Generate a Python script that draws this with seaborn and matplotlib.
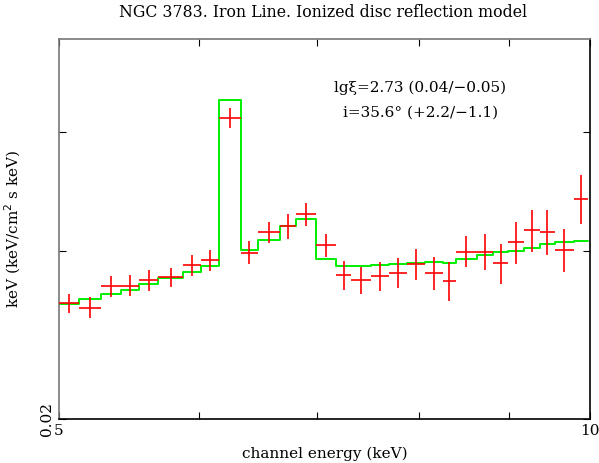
import numpy as np
import pandas as pd
import matplotlib
matplotlib.use("Agg")
import matplotlib.pyplot as plt
import matplotlib.ticker as mticker
import seaborn as sns

sns.set_style("ticks")
plt.rcParams["font.family"] = ["DejaVu Serif", "DejaVu Sans"]
plt.rcParams["text.color"] = "black"
plt.rcParams["axes.labelcolor"] = "black"

# === Data ===
# channel bin edges, keV
bin_edges = [5.00, 5.13, 5.28, 5.42, 5.55, 5.69, 5.88, 6.02, 6.16, 6.34,
             6.48, 6.67, 6.81, 6.99, 7.18, 7.32, 7.51, 7.69, 7.88, 8.06,
             8.25, 8.39, 8.63, 8.81, 8.99, 9.18, 9.37, 9.55, 9.79, 9.97]
# observed spectrum, keV (keV/cm2 s keV)
flux = [0.02643, 0.02615, 0.02755, 0.02759, 0.02793, 0.02814, 0.02897, 0.02932,
        0.04133, 0.02988, 0.03136, 0.03184, 0.03275, 0.03039, 0.02829, 0.02795,
        0.02822, 0.02845, 0.02905, 0.02843, 0.02791, 0.02995, 0.02995, 0.02912,
        0.03061, 0.03151, 0.03138, 0.03007, 0.03400]
flux_err = [0.00062, 0.00066, 0.00068, 0.00070, 0.00073, 0.00066, 0.00075, 0.00076,
            0.00097, 0.00083, 0.00079, 0.00096, 0.00091, 0.00086, 0.00101, 0.00090,
            0.00097, 0.00101, 0.00107, 0.00112, 0.00132, 0.00113, 0.00133, 0.00140,
            0.00153, 0.00161, 0.00170, 0.00159, 0.00200]
# ionized disc reflection model, per bin
model = [0.02638, 0.02668, 0.02703, 0.02733, 0.02769, 0.02811, 0.02850, 0.02891,
         0.04320, 0.03003, 0.03076, 0.03184, 0.03240, 0.02944, 0.02893, 0.02889,
         0.02896, 0.02903, 0.02912, 0.02919, 0.02912, 0.02942, 0.02969, 0.02990,
         0.03000, 0.03019, 0.03049, 0.03063, 0.03073]

edges = np.array(bin_edges)
centers = 0.5 * (edges[:-1] + edges[1:])
half_w = 0.5 * (edges[1:] - edges[:-1])

model_df = pd.DataFrame({"energy": edges, "model": model + [model[-1]]})

# === Plot ===
fig = plt.figure(figsize=(5.99, 4.63), dpi=100)
ax = fig.add_axes([59 / 599, 44 / 463, 531 / 599, 380 / 463])

ax.errorbar(centers, flux, xerr=half_w, yerr=flux_err, fmt="none",
            ecolor="#ff0000", elinewidth=1.2, capsize=0, zorder=3)
sns.lineplot(data=model_df, x="energy", y="model", ax=ax, color="#00ee00",
             drawstyle="steps-post", linewidth=1.4, estimator=None, zorder=2)

ax.set_xscale("log")
ax.set_yscale("log")
ax.set_xlim(5, 10)
ax.set_ylim(0.02, 0.05)

ax.xaxis.set_major_locator(mticker.FixedLocator([5, 10]))
ax.xaxis.set_major_formatter(mticker.FixedFormatter(["5", "10"]))
ax.xaxis.set_minor_locator(mticker.FixedLocator([6, 7, 8, 9]))
ax.xaxis.set_minor_formatter(mticker.NullFormatter())
ax.yaxis.set_major_locator(mticker.FixedLocator([0.02, 0.03, 0.04]))
ax.yaxis.set_major_formatter(mticker.FixedFormatter(["0.02", "", ""]))
ax.yaxis.set_minor_locator(mticker.NullLocator())

ax.tick_params(which="both", direction="in", top=True, right=True,
               length=5, width=0.8, colors="black", labelsize=11)
for lab in ax.get_yticklabels():
    lab.set_rotation(90)
    lab.set_va("center")

for side in ["left", "top"]:
    ax.spines[side].set_color("#777777")
for side in ["right", "bottom"]:
    ax.spines[side].set_color("black")
for sp in ax.spines.values():
    sp.set_linewidth(1.2)

ax.set_xlabel("channel energy (keV)", fontsize=11, labelpad=6)
ax.set_ylabel("keV (keV/cm$^2$ s keV)", fontsize=11, labelpad=12)
fig.text(0.54, 0.973, "NGC 3783. Iron Line. Ionized disc reflection model",
         ha="center", va="center", fontsize=11.3)

ax.text(0.68, 0.872, "lg\u03be=2.73 (0.04/\u22120.05)", transform=ax.transAxes,
        ha="center", va="center", fontsize=11)
ax.text(0.68, 0.806, "i=35.6\u00b0 (+2.2/\u22121.1)", transform=ax.transAxes,
        ha="center", va="center", fontsize=11)

fig.savefig("out.png", dpi=100)
